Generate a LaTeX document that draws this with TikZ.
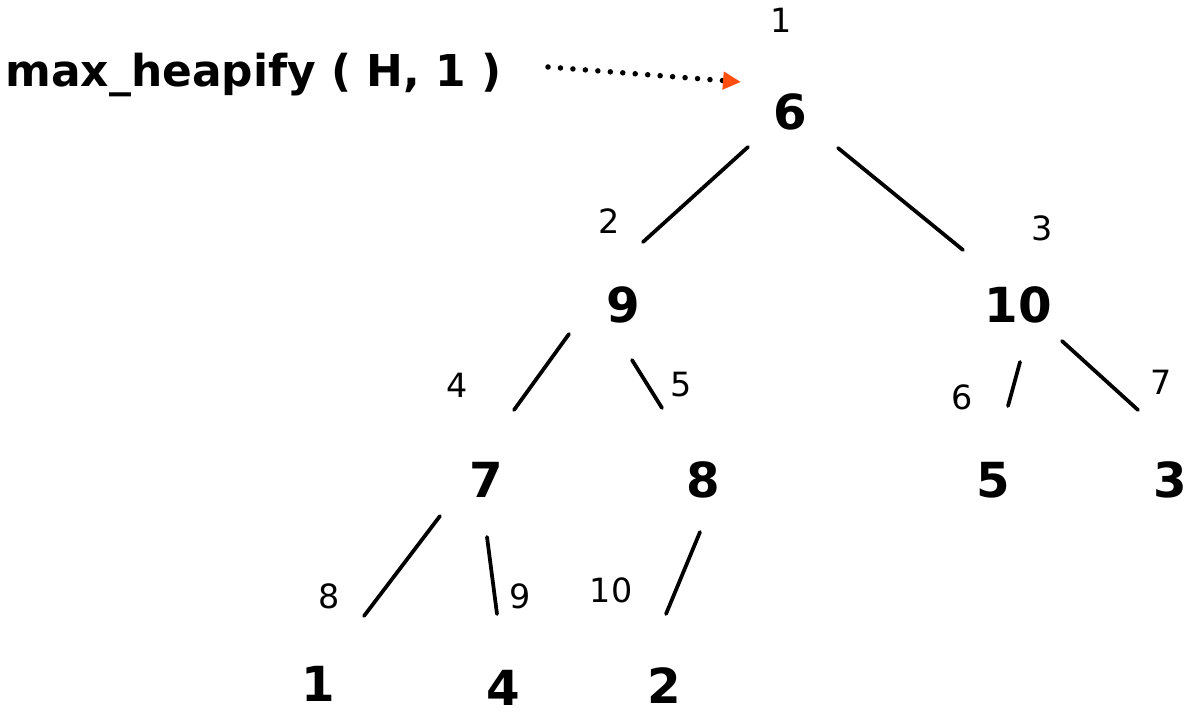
\documentclass[tikz,border=0pt]{standalone}
\usepackage{fontspec}
\setmainfont{DejaVu Sans}
\usetikzlibrary{arrows.meta}
\definecolor{tipred}{HTML}{FF4E0D}

\begin{document}
\begin{tikzpicture}[
  x=0.02cm, y=-0.02cm,
  key/.style   = {font=\fontsize{27.5}{30}\selectfont\bfseries, inner sep=0pt},
  idx/.style   = {font=\fontsize{19}{21}\selectfont, inner sep=0pt},
  call/.style  = {font=\fontsize{25}{28}\selectfont\bfseries, inner sep=0pt, anchor=west},
  edge/.style  = {line width=0.075cm, line cap=round},
  point/.style = {line width=0.11cm, line cap=round, dash pattern=on 0pt off 0.25cm,
                  -{Triangle[length=0.36cm, width=0.34cm, color=tipred]}},
]
  \useasboundingbox (0,0) rectangle (1199,715);
  % keys of the heap
  \node[key] (n1)  at (790,112) {6};
  \node[key] (n2)  at (623,305) {9};
  \node[key] (n3)  at (1018,305) {10};
  \node[key] (n4)  at (486,480) {7};
  \node[key] (n5)  at (703,480) {8};
  \node[key] (n6)  at (993,480) {5};
  \node[key] (n7)  at (1170,480) {3};
  \node[key] (n8)  at (318,684) {1};
  \node[key] (n9)  at (503,688) {4};
  \node[key] (n10) at (664,686) {2};
  % array indices
  \node[idx] (i1)  at (781,20)  {1};
  \node[idx] (i2)  at (609,221) {2};
  \node[idx] (i3)  at (1042,228) {3};
  \node[idx] (i4)  at (457,385) {4};
  \node[idx] (i5)  at (681,385) {5};
  \node[idx] (i6)  at (962,397) {6};
  \node[idx] (i7)  at (1161,382) {7};
  \node[idx] (i8)  at (329,596) {8};
  \node[idx] (i9)  at (520,596) {9};
  \node[idx] (i10) at (611,590) {10};
  % tree edges
  \coordinate (e2a)  at (748,147);  \coordinate (e2b)  at (643,242);
  \coordinate (e3a)  at (838,148);  \coordinate (e3b)  at (963,250);
  \coordinate (e4a)  at (569,334);  \coordinate (e4b)  at (514,410);
  \coordinate (e5a)  at (632,360);  \coordinate (e5b)  at (662,408);
  \coordinate (e6a)  at (1020,362); \coordinate (e6b)  at (1008,406);
  \coordinate (e7a)  at (1062,341); \coordinate (e7b)  at (1138,410);
  \coordinate (e8a)  at (440,516);  \coordinate (e8b)  at (364,616);
  \coordinate (e9a)  at (487,537);  \coordinate (e9b)  at (497,614);
  \coordinate (e10a) at (700,532);  \coordinate (e10b) at (666,614);
  \foreach \k in {2,...,10}
    \draw[edge] (e\k a) -- (e\k b);
  % the call
  \node[call] (call) at (5,75) {max\_heapify ( H, 1 )};
  \coordinate (dots) at (548,67);
  \coordinate (tip) at (741,82);
  \draw[point] (dots) -- (tip);
\end{tikzpicture}
\end{document}
